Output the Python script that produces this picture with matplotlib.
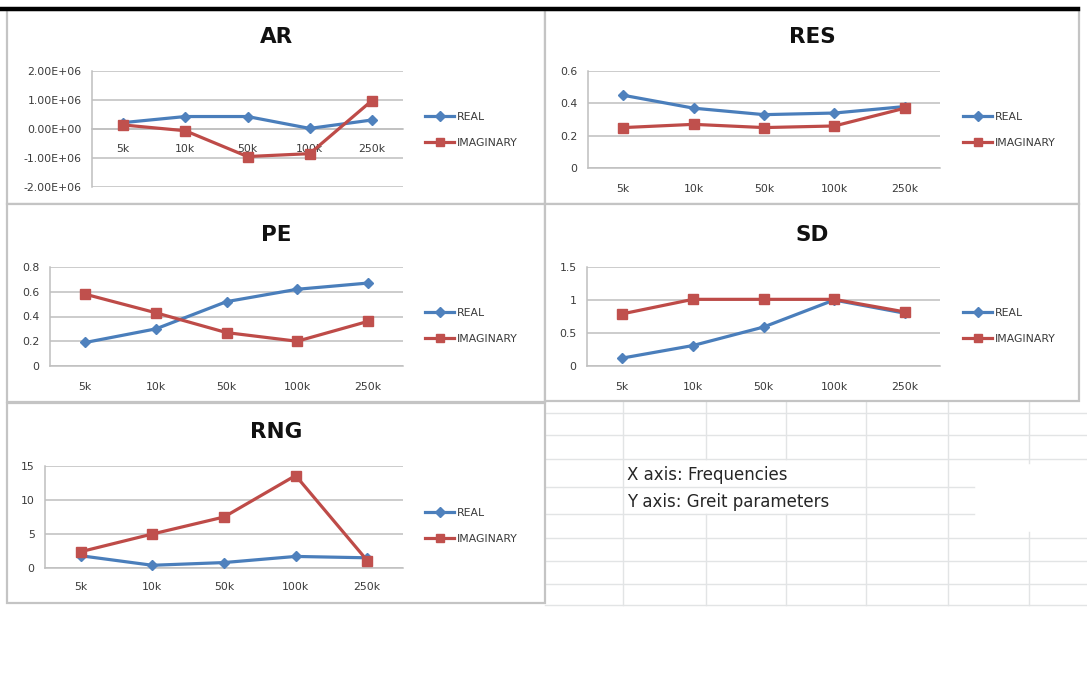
import matplotlib
matplotlib.use("Agg")
import matplotlib.pyplot as plt
from matplotlib.lines import Line2D
from matplotlib.patches import Rectangle
from matplotlib.ticker import FuncFormatter, FixedLocator

# ---- data -------------------------------------------------------------
freqs = ["5k", "10k", "50k", "100k", "250k"]

ar_real = [0.22e6, 0.43e6, 0.43e6, 0.02e6, 0.31e6]
ar_imag = [0.14e6, -0.06e6, -0.95e6, -0.85e6, 0.98e6]

res_real = [0.45, 0.37, 0.33, 0.34, 0.38]
res_imag = [0.25, 0.27, 0.25, 0.26, 0.37]

pe_real = [0.19, 0.30, 0.52, 0.62, 0.67]
pe_imag = [0.58, 0.43, 0.27, 0.20, 0.36]

sd_real = [0.12, 0.31, 0.59, 1.00, 0.80]
sd_imag = [0.79, 1.01, 1.01, 1.01, 0.82]

rng_real = [1.8, 0.4, 0.8, 1.7, 1.5]
rng_imag = [2.4, 5.0, 7.5, 13.6, 1.1]

series_names = ["REAL", "IMAGINARY"]
notes = ["X axis: Frequencies", "Y axis: Greit parameters"]

# ---- styling ----------------------------------------------------------
W, H = 1087, 682
BLUE_LINE, BLUE_MARK = "#4A7EBB", "#4F81BD"
RED_LINE, RED_MARK = "#BE4B48", "#C0504D"
GRID = "#BFBFBF"
BORDER = "#C4C4C4"
SHEET = "#E2E4E5"
TXT = "#3A3A3A"
FONT = "DejaVu Sans"
TICK_SIZE = 7.8
LEG_SIZE = 7.8

fig = plt.figure(figsize=(W / 100, H / 100), dpi=100)
fig.patch.set_facecolor("white")


def fx(x):
    return x / W


def fy(y):
    return 1 - y / H


def hline(y, x0, x1, color=SHEET, lw=1.0, z=0):
    fig.add_artist(Line2D([fx(x0), fx(x1)], [fy(y), fy(y)], color=color,
                          lw=lw, zorder=z, transform=fig.transFigure))


def vline(x, y0, y1, color=SHEET, lw=1.0, z=0):
    fig.add_artist(Line2D([fx(x), fx(x)], [fy(y0), fy(y1)], color=color,
                          lw=lw, zorder=z, transform=fig.transFigure))


# ---- worksheet cells behind the charts --------------------------------
for y in [413, 435, 459, 538, 561, 584, 605]:
    hline(y, 545, W)
for y in [487, 514]:
    hline(y, 545, 974)
for x in [623, 866, 948]:
    vline(x, 401, 605)
for x in [706, 786]:
    vline(x, 401, 459)
    vline(x, 514, 605)
vline(1029, 401, 463)
vline(1029, 532, 605)

for i, t in enumerate(notes):
    fig.text(fx(627), fy(475 + 27 * i), t, fontsize=12, color="#262626",
             va="center", ha="left", family=FONT)

# top rule
hline(8.5, 0, 1078, color="black", lw=3.2, z=5)


def panel(l, t, r, b):
    fig.add_artist(Rectangle((fx(l), fy(b)), fx(r) - fx(l), fy(t) - fy(b),
                             transform=fig.transFigure, facecolor="white",
                             edgecolor=BORDER, lw=1.6, zorder=1))


def chart(title, real, imag, box, plot, ylim, yticks, fmt, title_y,
          label_y, legend_x, legend_y, cross_zero=False):
    l, t, r, b = box
    panel(l, t, r, b)
    pl, pt, pr, pb = plot
    ax = fig.add_axes([fx(pl), fy(pb), fx(pr) - fx(pl), fy(pt) - fy(pb)])
    ax.set_zorder(3)
    ax.patch.set_alpha(0)
    x = list(range(len(freqs)))
    ax.plot(x, real, color=BLUE_LINE, lw=2.3, marker="D", ms=5.5,
            mfc=BLUE_MARK, mec=BLUE_MARK, label=series_names[0],
            clip_on=False, zorder=4)
    ax.plot(x, imag, color=RED_LINE, lw=2.3, marker="s", ms=6.5,
            mfc=RED_MARK, mec=RED_MARK, label=series_names[1],
            clip_on=False, zorder=5)
    ax.set_xlim(-0.5, len(freqs) - 0.5)
    ax.set_ylim(*ylim)
    ax.yaxis.set_major_locator(FixedLocator(yticks))
    ax.yaxis.set_major_formatter(FuncFormatter(fmt))
    ax.set_xticks(x)
    ax.set_xticklabels(freqs)
    for v in yticks:
        ax.axhline(v, color=GRID, lw=1.1, zorder=1)
    for s in ["top", "right"]:
        ax.spines[s].set_visible(False)
    ax.spines["left"].set_color(GRID)
    ax.spines["bottom"].set_color(GRID)
    ax.spines["left"].set_linewidth(1.1)
    ax.spines["bottom"].set_linewidth(1.1)
    if cross_zero:
        ax.spines["bottom"].set_position(("data", 0))
    # pixel distance from the bottom axis line to the tick label centre
    base = pb if not cross_zero else pt + (pb - pt) * (ylim[1] - 0) / (ylim[1] - ylim[0])
    pad_px = label_y - base - 5.5
    ax.tick_params(axis="x", length=0, pad=pad_px * 0.72,
                   labelsize=TICK_SIZE, labelcolor=TXT)
    ax.tick_params(axis="y", length=0, pad=7.5, labelsize=TICK_SIZE,
                   labelcolor=TXT)
    for lab in ax.get_xticklabels() + ax.get_yticklabels():
        lab.set_family(FONT)

    fig.text(fx((l + r) / 2), fy(title_y), title, fontsize=15.5,
             fontweight="bold", ha="center", va="center", family=FONT,
             color="#111111", zorder=6)

    handles = [
        Line2D([], [], color=BLUE_LINE, lw=2.3, marker="D", ms=5,
               mfc=BLUE_MARK, mec=BLUE_MARK),
        Line2D([], [], color=RED_LINE, lw=2.3, marker="s", ms=6,
               mfc=RED_MARK, mec=RED_MARK),
    ]
    leg = fig.legend(handles, series_names, loc="center left",
                     bbox_to_anchor=(fx(legend_x), fy(legend_y)),
                     frameon=False, handlelength=2.7,
                     handletextpad=0.2, labelspacing=1.5, borderpad=0,
                     borderaxespad=0, prop={"family": FONT, "size": LEG_SIZE})
    for tx in leg.get_texts():
        tx.set_color(TXT)
    leg.set_zorder(6)
    return ax


def sci(v, _):
    return f"{v:.2E}"


def gen(v, _):
    return f"{v:g}"


# left column
chart("AR", ar_real, ar_imag, (7, 10, 545, 204), (92, 71, 403, 187),
      (-2e6, 2e6), [-2e6, -1e6, 0, 1e6, 2e6], sci, 37, 149, 425, 130,
      cross_zero=True)
chart("PE", pe_real, pe_imag, (7, 204, 545, 402), (50, 267, 403, 366),
      (0, 0.8), [0, 0.2, 0.4, 0.6, 0.8], gen, 235, 387, 425, 326)
chart("RNG", rng_real, rng_imag, (7, 403, 545, 603), (45, 466, 403, 568),
      (0, 15), [0, 5, 10, 15], gen, 432, 588, 425, 526)

# right column
chart("RES", res_real, res_imag, (545, 10, 1079, 204), (588, 71, 940, 168),
      (0, 0.6), [0, 0.2, 0.4, 0.6], gen, 37, 190, 963, 130)
chart("SD", sd_real, sd_imag, (545, 204, 1079, 401), (587, 267, 940, 366),
      (0, 1.5), [0, 0.5, 1, 1.5], gen, 235, 387, 963, 326)

fig.savefig("out.png", dpi=100, facecolor="white")
